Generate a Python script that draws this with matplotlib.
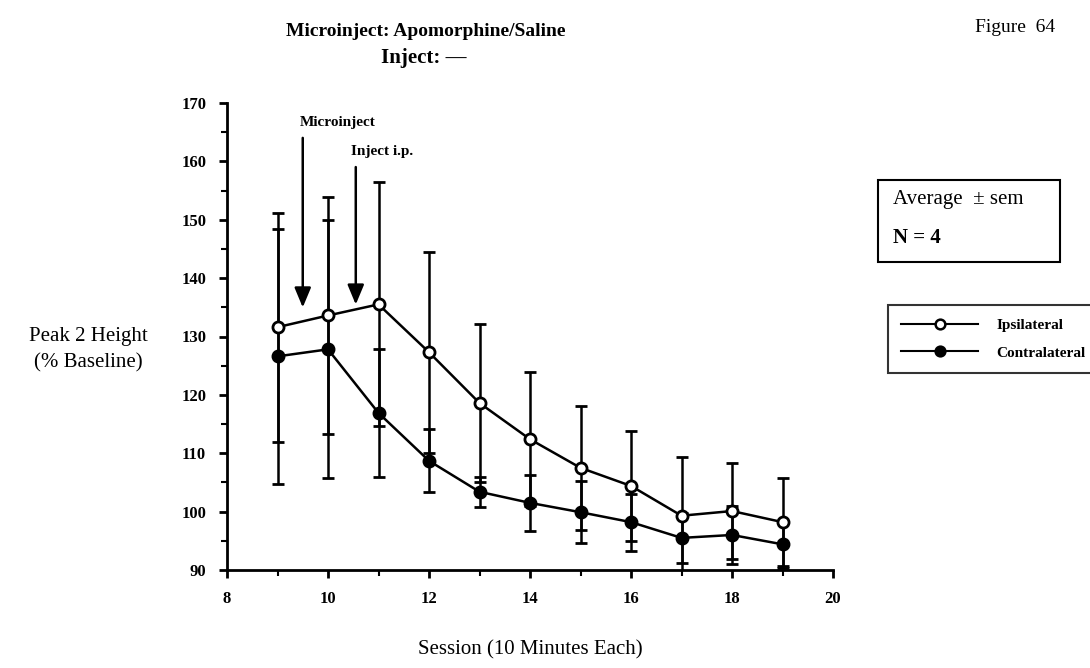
import matplotlib
matplotlib.use("Agg")
import matplotlib.pyplot as plt
from matplotlib.ticker import MultipleLocator

plt.rcParams['font.family'] = ['Liberation Serif', 'DejaVu Serif']

sessions = [9, 10, 11, 12, 13, 14, 15, 16, 17, 18, 19]
ipsi_mean = [131.6, 133.6, 135.5, 127.3, 118.6, 112.4, 107.5, 104.4, 99.3, 100.1, 98.2]
ipsi_sem = [19.6, 20.3, 20.9, 17.2, 13.5, 11.5, 10.6, 9.4, 10.1, 8.2, 7.6]
contra_mean = [126.6, 127.8, 116.9, 108.7, 103.4, 101.5, 99.9, 98.2, 95.5, 96.0, 94.4]
contra_sem = [21.8, 22.1, 10.9, 5.4, 2.6, 4.8, 5.3, 4.9, 4.3, 5.0, 4.0]

fig = plt.figure(figsize=(10.9, 6.68), dpi=100)
ax = fig.add_axes([227 / 1090, 1 - 570 / 668, (833 - 227) / 1090, (570 - 103) / 668])

lw = 1.8
ax.errorbar(sessions, ipsi_mean, yerr=ipsi_sem, color='black', lw=lw, elinewidth=lw,
            capsize=4, capthick=lw, marker='o', ms=8, mfc='white', mec='black', mew=2,
            zorder=3, clip_on=True)
ax.errorbar(sessions, contra_mean, yerr=contra_sem, color='black', lw=lw, elinewidth=lw,
            capsize=4, capthick=lw, marker='o', ms=8, mfc='black', mec='black', mew=2,
            zorder=3, clip_on=True)

ax.set_xlim(8, 20)
ax.set_ylim(90, 170)
ax.xaxis.set_major_locator(MultipleLocator(2))
ax.xaxis.set_minor_locator(MultipleLocator(1))
ax.yaxis.set_major_locator(MultipleLocator(10))
ax.yaxis.set_minor_locator(MultipleLocator(5))
for s in ('top', 'right'):
    ax.spines[s].set_visible(False)
for s in ('left', 'bottom'):
    ax.spines[s].set_linewidth(2)
ax.tick_params(which='major', length=6, width=2, labelsize=12, pad=9)
ax.tick_params(which='minor', length=4, width=1.5)
for lab in ax.get_xticklabels() + ax.get_yticklabels():
    lab.set_fontweight('bold')

# Event arrows
ax.annotate('', xy=(9.5, 134.5), xytext=(9.5, 164.5),
            arrowprops=dict(arrowstyle='-|>,head_length=1.2,head_width=0.5', lw=1.8, color='black'))
ax.annotate('', xy=(10.55, 135), xytext=(10.55, 159.5),
            arrowprops=dict(arrowstyle='-|>,head_length=1.2,head_width=0.5', lw=1.8, color='black'))
ax.text(9.45, 165.5, 'Microinject', fontsize=11, fontweight='bold', ha='left', va='bottom')
ax.text(10.45, 160.5, 'Inject i.p.', fontsize=11, fontweight='bold', ha='left', va='bottom')

# Titles and labels
fig.text(426 / 1090, 1 - 31 / 668, 'Microinject: Apomorphine/Saline', fontsize=14,
         fontweight='bold', ha='center', va='center')
fig.text(424 / 1090, 1 - 58 / 668, 'Inject: \u2014', fontsize=15,
         fontweight='bold', ha='center', va='center')
fig.text(1015 / 1090, 1 - 27 / 668, 'Figure  64', fontsize=14, ha='center', va='center')
fig.text(88 / 1090, 1 - 350 / 668, 'Peak 2 Height\n(% Baseline)', fontsize=15,
         ha='center', va='center', linespacing=1.5)
fig.text(530 / 1090, 1 - 650 / 668, 'Session (10 Minutes Each)', fontsize=15,
         ha='center', va='center')

# Summary box
fig.patches.append(plt.Rectangle((878 / 1090, 1 - 262 / 668), 182 / 1090, 82 / 668,
                                 transform=fig.transFigure, fill=False, lw=1.5, ec='black'))
fig.text(893 / 1090, 1 - 200 / 668, 'Average  \u00b1 sem', fontsize=15, ha='left', va='center')
fig.text(893 / 1090, 1 - 238 / 668, 'N = 4', fontsize=15, fontweight='bold', ha='left', va='center')

# Legend
leg_handles = [
    plt.Line2D([], [], color='black', lw=1.5, marker='o', ms=7, mfc='white', mec='black', mew=1.8),
    plt.Line2D([], [], color='black', lw=1.5, marker='o', ms=7, mfc='black', mec='black', mew=1.8),
]
leg = fig.legend(leg_handles, ['Ipsilateral', 'Contralateral'], loc='upper left',
                 bbox_to_anchor=(880 / 1090, 1 - 297 / 668), frameon=True, fancybox=False,
                 edgecolor='black', handlelength=5, handletextpad=1.2,
                 prop={'size': 11, 'weight': 'bold'},
                 borderpad=0.9, labelspacing=0.9)
leg.get_frame().set_linewidth(1.5)

fig.savefig('out.png', dpi=100)
